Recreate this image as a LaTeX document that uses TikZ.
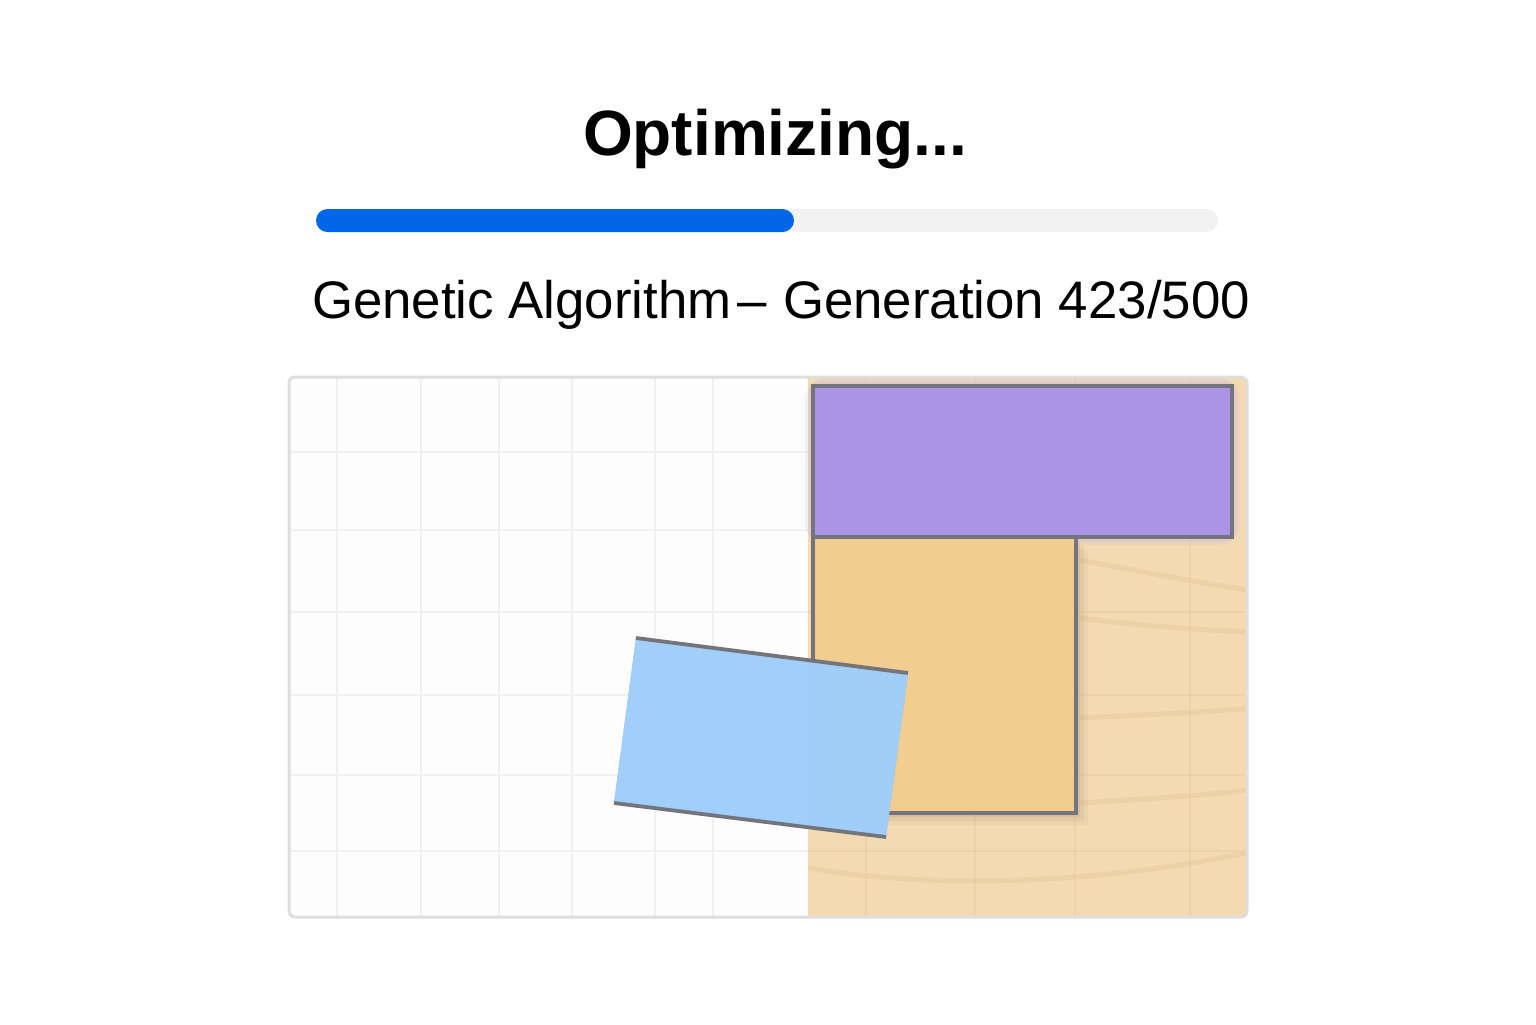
\documentclass[tikz,border=0pt]{standalone}
\usepackage{fontspec}
\setmainfont{Liberation Sans}
\definecolor{trackgray}{HTML}{F2F2F2}
\definecolor{barblue}{HTML}{0066E8}
\definecolor{panelbg}{HTML}{FDFDFD}
\definecolor{panelborder}{HTML}{DEDEDE}
\definecolor{gridgray}{HTML}{F1F1F1}
\definecolor{tanbg}{HTML}{F4DAB1}
\definecolor{tanline}{HTML}{E6C99C}
\definecolor{orangefill}{HTML}{F1CD8F}
\definecolor{purplefill}{HTML}{AB94E6}
\definecolor{purpleglow}{HTML}{C7B4E8}
\definecolor{bluefill}{HTML}{A1CFFA}
\definecolor{edgegray}{HTML}{74747C}
\tikzset{
  rectborder/.style={draw=edgegray, line width=1.9pt},
  gridline/.style={gridgray, line width=1.4pt},
  tangrid/.style={black, opacity=0.03, line width=1.4pt},
  tancurve/.style={tanline, opacity=0.5, line width=2.5pt},
}
\begin{document}
\begin{tikzpicture}[x=0.5pt,y=-0.5pt]
\useasboundingbox (0,0) rectangle (1536,1024);
\fill[white] (0,0) rectangle (1536,1024);

% title
\node[anchor=base, font=\fontsize{32}{38}\selectfont\bfseries, inner sep=0pt] (title) at (775,155) {Optimizing...};

% progress bar
\fill[trackgray, rounded corners=5.75pt] (316,209) rectangle (1218,232);
\fill[barblue, rounded corners=5.75pt] (316,209) rectangle (794,232);

% subtitle
\node[anchor=base, font=\fontsize{26.4}{31}\selectfont, inner sep=0pt] (sub) at (781,318) {Genetic Algorithm\hspace{0.12em}–\hspace{0.3em}Generation 423/500};

% panel
\begin{scope}
  \clip[rounded corners=3pt] (289,377) rectangle (1247,917);
  \fill[panelbg] (289,377) rectangle (1247,917);
  \fill[tanbg] (808,377) rectangle (1247,917);
  % grid, left part
  \foreach \gx in {337,421,499,572,655,713}
    \draw[gridline] (\gx,377) -- (\gx,917);
  \foreach \gy in {452,530,612,695,775,851}
    \draw[gridline] (289,\gy) -- (808,\gy);
  % grid, tan part
  \foreach \gx in {866,975,1075,1190}
    \draw[tangrid] (\gx,377) -- (\gx,917);
  \foreach \gy in {612,695,775,851}
    \draw[tangrid] (808,\gy) -- (1247,\gy);
  % faint curves
  \draw[tancurve] (1080,560) .. controls (1160,575) and (1210,585) .. (1250,590);
  \draw[tancurve] (1080,618) .. controls (1160,628) and (1210,630) .. (1250,632);
  \draw[tancurve] (1080,718) .. controls (1160,714) and (1210,712) .. (1250,708);
  \draw[tancurve] (1080,803) .. controls (1160,798) and (1210,795) .. (1250,790);
  \draw[tancurve] (808,868) .. controls (950,892) and (1120,880) .. (1250,852);
\end{scope}
\draw[panelborder, line width=1.5pt, rounded corners=3pt] (289,377) rectangle (1247,917);

% purple glow
\draw[purpleglow, opacity=0.18, line width=8pt, rounded corners=7pt] (813,386) rectangle (1232,537);
\draw[purpleglow, opacity=0.3, line width=4.5pt, rounded corners=3pt] (813,386) rectangle (1232,537);

% orange rect shadow
\foreach \s/\o in {12/0.03,8/0.04,4/0.05}
  \fill[black, opacity=\o] (813+\s,537+\s) rectangle (1076+\s,813+\s);

% rectangles
\coordinate (pTL) at (813,386);
\coordinate (pBR) at (1232,537);
\coordinate (oTL) at (813,537);
\coordinate (oBR) at (1076,813);
\fill[orangefill] (oTL) rectangle (oBR);
\draw[rectborder] (oTL) rectangle (oBR);
\fill[purplefill] (pTL) rectangle (pBR);
\draw[rectborder] (pTL) rectangle (pBR);

% blue rotated rectangle
\coordinate (b1) at (636,638);
\coordinate (b2) at (908,673);
\coordinate (b3) at (886,837);
\coordinate (b4) at (614,803);
% soft shadow
\foreach \s/\o in {10/0.04,6/0.05,3/0.06}
  \fill[black, opacity=\o, yshift=-\s*0.5pt, xshift=\s*0.3pt] (b1) -- (b2) -- (b3) -- (b4) -- cycle;
% motion blur
\foreach \s/\o in {-5/0.25,-3/0.35,3/0.35,5/0.25}
  \fill[bluefill, opacity=\o, xshift=\s pt] (b1) -- (b2) -- (b3) -- (b4) -- cycle;
\fill[bluefill, opacity=0.93] (b1) -- (b2) -- (b3) -- (b4) -- cycle;
\draw[rectborder] (b1) -- (b2);
\draw[rectborder] (b4) -- (b3);
\end{tikzpicture}
\end{document}
